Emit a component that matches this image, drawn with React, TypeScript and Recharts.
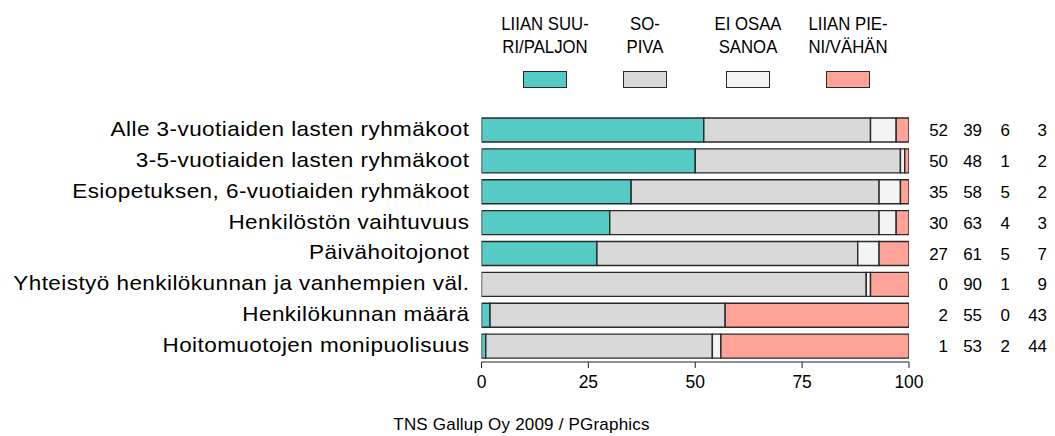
import { BarChart, Bar, XAxis, YAxis, LabelList } from "recharts";

const categories = [
  "Alle 3-vuotiaiden lasten ryhmäkoot",
  "3-5-vuotiaiden lasten ryhmäkoot",
  "Esiopetuksen, 6-vuotiaiden ryhmäkoot",
  "Henkilöstön vaihtuvuus",
  "Päivähoitojonot",
  "Yhteistyö henkilökunnan ja vanhempien väl.",
  "Henkilökunnan määrä",
  "Hoitomuotojen monipuolisuus",
];

const liianSuuri = [52, 50, 35, 30, 27, 0, 2, 1];
const sopiva = [39, 48, 58, 63, 61, 90, 55, 53];
const eiOsaa = [6, 1, 5, 4, 5, 1, 0, 2];
const liianPieni = [3, 2, 2, 3, 7, 9, 43, 44];

const seriesKeys = ["suuri", "sopiva", "eiOsaa", "pieni"];
const seriesLabels = [
  ["LIIAN SUU-", "RI/PALJON"],
  ["SO-", "PIVA"],
  ["EI OSAA", "SANOA"],
  ["LIIAN PIE-", "NI/VÄHÄN"],
];
const seriesColors = ["#56CAC5", "#D9D9D9", "#F4F4F4", "#FFA398"];

const xTicks = [0, 25, 50, 75, 100];

const data = categories.map((name, i) => ({
  name,
  suuri: liianSuuri[i],
  sopiva: sopiva[i],
  eiOsaa: eiOsaa[i],
  pieni: liianPieni[i],
}));

const FONT = "'Liberation Sans', Arial, Helvetica, sans-serif";
const STROKE = "#2a2a2a";

function CategoryTick(props: any) {
  const { x, y, payload } = props;
  // the original text is drawn a bit wider than Arial, so stretch it
  return (
    <g transform={`translate(${Number(x) + 1},${Number(y) + 5.5}) scale(1.125,1)`}>
      <text
        x={0}
        y={0}
        textAnchor="end"
        fontFamily={FONT}
        fontSize={20}
        letterSpacing={0.4}
        fill="#000"
      >
        {payload.value}
      </text>
    </g>
  );
}

// four value columns printed to the right of each bar
const columnOffsets = [39, 73, 101, 138];

function RowValues(props: any) {
  const { x, y, width, height, index } = props;
  const right = Number(x) + Number(width);
  const cy = Number(y) + Number(height) / 2;
  const values = [liianSuuri[index], sopiva[index], eiOsaa[index], liianPieni[index]];
  return (
    <g>
      {values.map((v, j) => (
        <g key={j} transform={`translate(${right + columnOffsets[j]},${cy + 6}) scale(1.06,1)`}>
          <text x={0} y={0} textAnchor="end" fontFamily={FONT} fontSize={16} fill="#000">
            {v}
          </text>
        </g>
      ))}
    </g>
  );
}

const legendCenters = [545, 645, 748, 848];

export default function App() {
  return (
    <div
      style={{
        position: "absolute",
        left: 0,
        top: 0,
        width: 1055,
        height: 436,
        background: "#fff",
        fontFamily: FONT,
      }}
    >
      <BarChart
        width={1055}
        height={436}
        data={data}
        layout="vertical"
        barSize={24}
        margin={{ top: 115, right: 146, bottom: 34, left: 0 }}
      >
        <XAxis
          type="number"
          domain={[0, 100]}
          ticks={xTicks}
          allowDataOverflow
          height={40}
          tickSize={6}
          tickMargin={8}
          stroke="#222"
          tick={{ fill: "#000", fontSize: 17.5, fontFamily: FONT }}
        />
        <YAxis
          type="category"
          dataKey="name"
          width={481.5}
          axisLine={false}
          tickLine={false}
          tickSize={0}
          tickMargin={13}
          interval={0}
          tick={<CategoryTick />}
        />
        {seriesKeys.map((key, i) => (
          <Bar
            key={key}
            dataKey={key}
            stackId="a"
            fill={seriesColors[i]}
            stroke={STROKE}
            strokeWidth={1.4}
            isAnimationActive={false}
          >
            {i === seriesKeys.length - 1 && (
              <LabelList dataKey={key} content={<RowValues />} />
            )}
          </Bar>
        ))}
      </BarChart>

      {seriesLabels.map((lines, i) => (
        <div key={i}>
          <div
            style={{
              position: "absolute",
              left: legendCenters[i] - 60,
              width: 120,
              top: 13,
              textAlign: "center",
              fontSize: 18,
              lineHeight: "23px",
              color: "#000",
              whiteSpace: "nowrap",
              transform: "scaleX(0.93)",
            }}
          >
            {lines[0]}
            <br />
            {lines[1]}
          </div>
          <div
            style={{
              position: "absolute",
              left: legendCenters[i] - 22,
              top: 71,
              width: 44,
              height: 17,
              boxSizing: "border-box",
              background: seriesColors[i],
              border: `1.4px solid ${STROKE}`,
            }}
          />
        </div>
      ))}

      <div
        style={{
          position: "absolute",
          left: 0,
          width: 1043,
          top: 415,
          textAlign: "center",
          fontSize: 17,
          letterSpacing: 0.2,
          color: "#000",
          whiteSpace: "nowrap",
        }}
      >
        TNS Gallup Oy 2009 / PGraphics
      </div>
    </div>
  );
}
